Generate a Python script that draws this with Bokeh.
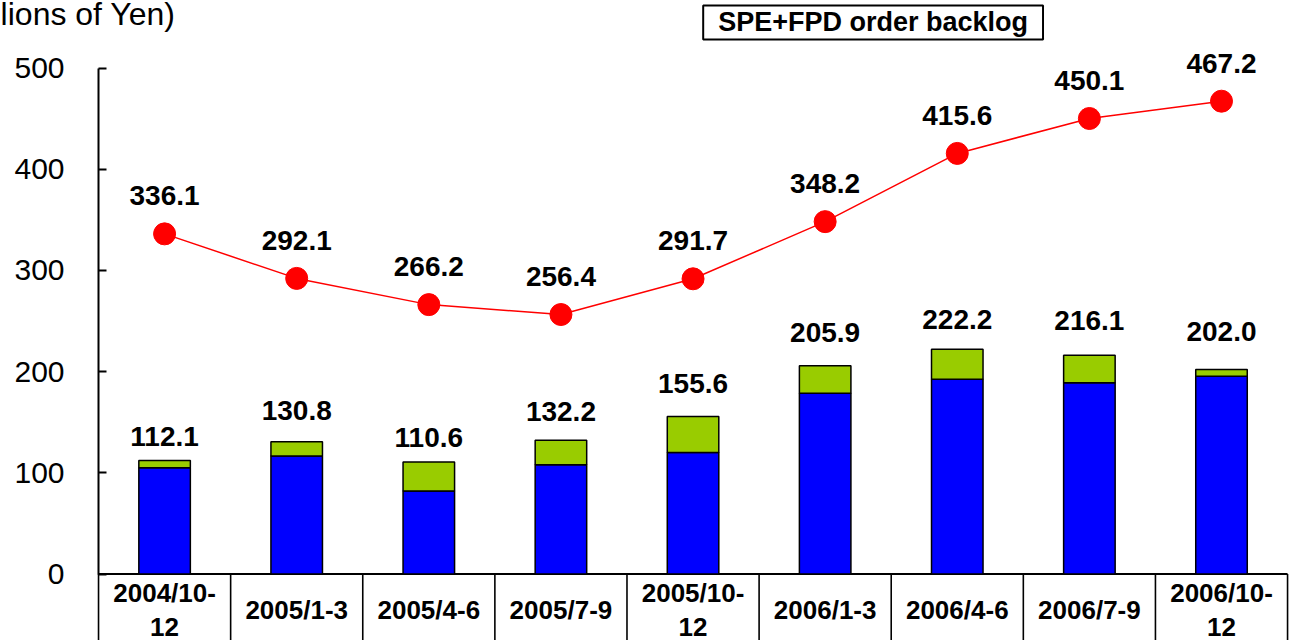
from bokeh.plotting import figure
from bokeh.models import Range1d, FixedTicker, Label, ColumnDataSource
from bokeh.embed import file_html
from bokeh.resources import INLINE
from bokeh.core.properties import value

# ---- data ----
categories = ["2004/10-\n12", "2005/1-3", "2005/4-6", "2005/7-9", "2005/10-\n12",
              "2006/1-3", "2006/4-6", "2006/7-9", "2006/10-\n12"]
bar_totals = [112.1, 130.8, 110.6, 132.2, 155.6, 205.9, 222.2, 216.1, 202.0]
bar_blue = [105.0, 116.5, 82.0, 108.0, 120.0, 178.5, 192.5, 189.0, 195.5]
backlog = [336.1, 292.1, 266.2, 256.4, 291.7, 348.2, 415.6, 450.1, 467.2]
y_ticks = [0, 100, 200, 300, 400, 500]

# ---- style ----
FONT = "Liberation Sans"
bar_label_offsets = [-24, -31, -25, -29, -33, -33, -30, -35, -38]  # px above bar top

n = len(categories)
xs = [i + 0.5 for i in range(n)]

src = ColumnDataSource(dict(
    x=xs, cat=categories, blue=bar_blue, total=bar_totals, backlog=backlog,
    total_lbl=[f"{v:.1f}" for v in bar_totals],
    backlog_lbl=[f"{v:.1f}" for v in backlog],
    lbl_off=bar_label_offsets,
))

p = figure(width=1293, height=640, output_backend="svg", toolbar_location=None,
           x_range=Range1d(-0.742, 9.045), y_range=Range1d(-65.7, 566.7),
           x_axis_location=None, min_border_left=0, min_border_right=0,
           min_border_top=0, min_border_bottom=0)
p.outline_line_color = None
p.grid.visible = False
p.background_fill_color = "white"

yax = p.yaxis[0]
yax.fixed_location = 0
yax.ticker = FixedTicker(ticks=y_ticks)
yax.bounds = (0, 500)
yax.major_tick_in = 8
yax.major_tick_out = 0
yax.minor_tick_line_color = None
yax.axis_line_width = 2
yax.major_tick_line_width = 2
yax.major_label_standoff = 34
yax.major_label_text_font = FONT
yax.major_label_text_font_size = "30px"
yax.major_label_text_color = "black"

# category table below the axis
p.segment(x0=[0], y0=[0], x1=[n], y1=[0], line_color="black", line_width=2)
p.segment(x0=list(range(n + 1)), y0=[0] * (n + 1), x1=list(range(n + 1)),
          y1=[-80] * (n + 1), line_color="black", line_width=1.6)
p.text(x="x", y=-35.5, text="cat", source=src, text_align="center",
       text_baseline="middle", text_font=value(FONT), text_font_style="bold",
       text_font_size="26px", text_line_height=1.15, text_color="black")

# stacked bars
p.vbar(x="x", bottom=0, top="blue", width=0.39, source=src,
       fill_color="#0000FF", line_color="black", line_width=1.5)
p.vbar(x="x", bottom="blue", top="total", width=0.39, source=src,
       fill_color="#99CC00", line_color="black", line_width=1.5)
p.text(x="x", y="total", text="total_lbl", source=src, y_offset="lbl_off",
       text_align="center", text_baseline="middle", text_font=value(FONT),
       text_font_style="bold", text_font_size="28px", text_color="black")

# backlog line
p.line(x="x", y="backlog", source=src, line_color="#FF0000", line_width=1.5)
p.scatter(x="x", y="backlog", source=src, size=22, fill_color="#FF0000",
          line_color="#FF0000")
p.text(x="x", y="backlog", text="backlog_lbl", source=src, y_offset=-38,
       text_align="center", text_baseline="middle", text_font=value(FONT),
       text_font_style="bold", text_font_size="28px", text_color="black")

# titles
p.add_layout(Label(x=0.583, y=553.4, text="(Billions of Yen)", text_align="right",
                   text_baseline="middle", text_font=FONT, text_font_size="32px",
                   text_color="black"))
p.add_layout(Label(x=5.863, y=545.0, text="SPE+FPD order backlog", text_align="center",
                   text_baseline="middle", text_font=FONT, text_font_style="bold",
                   text_font_size="27px", text_color="black",
                   border_line_color="black", border_line_width=2,
                   background_fill_color="white", padding=(15, 2)))

open("out.html", "w").write(file_html(p, INLINE))
